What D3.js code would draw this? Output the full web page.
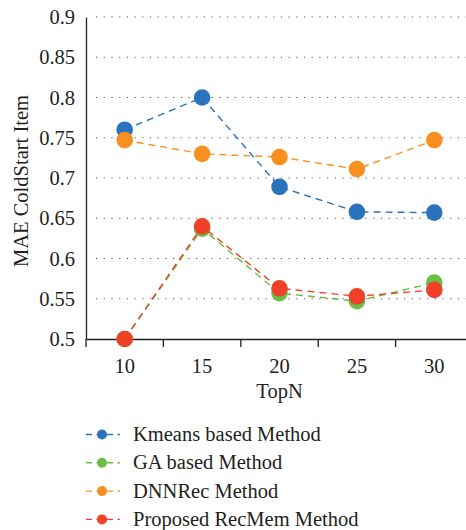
<!DOCTYPE html>
<html><head><meta charset="utf-8">
<script src="https://cdn.jsdelivr.net/npm/d3@7"></script>
<style>body{margin:0;background:#fff}svg{display:block}text{font-family:"Liberation Serif","DejaVu Serif",serif;fill:#231f20}</style>
</head><body>
<svg id="c" width="466" height="530"></svg>
<script>
const categories = ["10","15","20","25","30"];
const yTicks = [0.5,0.55,0.6,0.65,0.7,0.75,0.8,0.85,0.9];
const seriesNames = ["Kmeans based Method","GA based Method","DNNRec Method","Proposed RecMem Method"];
const kmeans = [0.760,0.800,0.689,0.658,0.657];
const ga = [0.500,0.637,0.557,0.547,0.570];
const dnnrec = [0.747,0.730,0.726,0.711,0.747];
const recmem = [0.500,0.640,0.563,0.553,0.561];
const colors = ["#2a72bb","#6abd45","#f7901e","#ee4128"];

(function(){
const svg = d3.select("#c");
const mLeft = 86, mTop = 17, mBottom = 339, mRight = 473;
const fs = "20.5px";
const x = d3.scaleBand().domain(categories).range([mLeft,mRight]);
const y = d3.scaleLinear().domain([0.5,0.9]).range([mBottom,mTop]);

// grid
svg.append("g").selectAll("line").data(yTicks.filter(d=>d>0.5)).join("line")
  .attr("x1",mLeft+10).attr("x2",466).attr("y1",d=>y(d)).attr("y2",d=>y(d))
  .attr("stroke","#555").attr("stroke-width",1.2).attr("stroke-dasharray","1.2,6.5");

// y axis
const ya = svg.append("g").attr("transform",`translate(${mLeft},0)`)
  .call(d3.axisLeft(y).tickValues(yTicks).tickSize(0).tickPadding(11).tickFormat(d=>String(+d.toFixed(2))));
ya.attr("font-family",null).attr("font-size",null);
ya.select(".domain").attr("stroke","#231f20").attr("stroke-width",1.3);
ya.selectAll("text").style("font-size",fs).attr("fill","#231f20");

// x axis
const xa = svg.append("g").attr("transform",`translate(0,${mBottom})`)
  .call(d3.axisBottom(x).tickSize(0).tickPadding(19));
xa.attr("font-family",null).attr("font-size",null);
xa.select(".domain").attr("stroke","#231f20").attr("stroke-width",1.3);
xa.selectAll("text").style("font-size",fs).attr("fill","#231f20");
const bounds = categories.map(c=>x(c));
xa.append("g").selectAll("line").data(bounds).join("line")
  .attr("x1",d=>d).attr("x2",d=>d).attr("y1",0).attr("y2",8)
  .attr("stroke","#231f20").attr("stroke-width",1.3);

svg.append("text").attr("transform",`translate(28,181) rotate(-90)`)
  .attr("text-anchor","middle").style("font-size",fs).text("MAE ColdStart Item");
svg.append("text").attr("x",x("20")+x.bandwidth()/2).attr("y",398).attr("text-anchor","middle")
  .style("font-size",fs).text("TopN");

const data = [kmeans,ga,dnnrec,recmem];
const line = d3.line().x((d,i)=>x(categories[i])+x.bandwidth()/2).y(d=>y(d));
data.forEach((s,k)=>{
  const g = svg.append("g");
  g.append("path").datum(s).attr("d",line).attr("fill","none").attr("stroke",colors[k])
    .attr("stroke-width",1.4).attr("stroke-dasharray","7,5");
  g.selectAll("circle").data(s).join("circle")
    .attr("cx",(d,i)=>x(categories[i])+x.bandwidth()/2).attr("cy",d=>y(d)).attr("r",8.3)
    .attr("fill",colors[k]);
});

// legend
const lg = svg.append("g");
seriesNames.forEach((n,k)=>{
  const yy = 434.5 + k*28.3;
  const g = lg.append("g");
  g.append("line").attr("x1",86).attr("x2",120).attr("y1",yy).attr("y2",yy)
    .attr("stroke",colors[k]).attr("stroke-width",1.4).attr("stroke-dasharray","6,4.5");
  g.append("circle").attr("cx",102).attr("cy",yy).attr("r",5).attr("fill",colors[k]);
  g.append("text").attr("x",133).attr("y",yy+6.5).style("font-size",fs).text(n);
});
})();
</script>
</body></html>
